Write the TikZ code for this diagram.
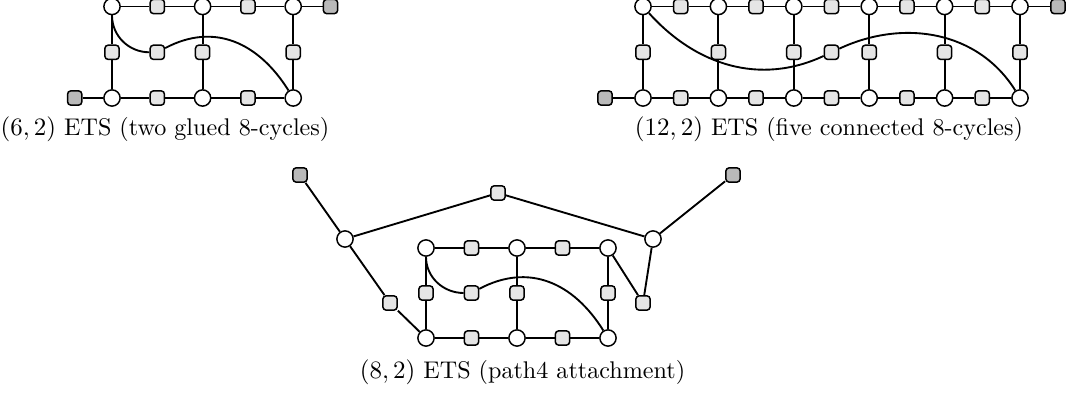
\documentclass[tikz,border=0pt]{standalone}
\pgfdeclarelayer{background}
\pgfsetlayers{background,main}
\begin{document}
\begin{tikzpicture}[x=0.4pt, y=-0.4pt,
  vnode/.style={circle, draw, fill=white, line width=0.6pt, minimum size=6.5pt, inner sep=0pt},
  cnode/.style={rectangle, rounded corners=1.3pt, draw, fill=gray!20, line width=0.6pt, minimum size=5.7pt, inner sep=0pt},
  dnode/.style={cnode, fill=gray!55},
  edge/.style={line width=0.75pt},
  caption/.style={anchor=base, inner sep=0pt, font=\fontsize{9.65pt}{11pt}\selectfont}]
\useasboundingbox (0,0) rectangle (1073,398);

% ---------- (6,2) ETS: two glued 8-cycles ----------
\node[vnode] (p1) at (112,6.5) {};
\node[cnode] (p2) at (157.3,6.5) {};
\node[vnode] (p3) at (202.6,6.5) {};
\node[cnode] (p4) at (247.9,6.5) {};
\node[vnode] (p5) at (293.2,6.5) {};
\node[dnode] (p6) at (330.5,6.5) {};
\node[cnode] (pm1) at (112,52.3) {};
\node[cnode] (pm2) at (157.3,52.3) {};
\node[cnode] (pm3) at (202.6,52.3) {};
\node[cnode] (pm5) at (293.2,52.3) {};
\node[dnode] (q0) at (74.7,98) {};
\node[vnode] (q1) at (112,98) {};
\node[cnode] (q2) at (157.3,98) {};
\node[vnode] (q3) at (202.6,98) {};
\node[cnode] (q4) at (247.9,98) {};
\node[vnode] (q5) at (293.2,98) {};
\begin{pgfonlayer}{background}
\draw[edge] (p1) -- (p2) -- (p3) -- (p4) -- (p5) -- (p6);
\draw[edge] (q0) -- (q1) -- (q2) -- (q3) -- (q4) -- (q5);
\draw[edge] (p1) -- (pm1) -- (q1);
\draw[edge] (p3) -- (pm3) -- (q3);
\draw[edge] (p5) -- (pm5) -- (q5);
\draw[edge] (p1) to[out=-90, in=180] (pm2);
\draw[edge] (pm2) to[out=28, in=122, looseness=1.1] (q5);
\end{pgfonlayer}
\node[caption] (cap1) at (165,136) {$(6,2)$ ETS (two glued 8-cycles)};

% ---------- (12,2) ETS: five connected 8-cycles ----------
\foreach \i/\x in {1/643,2/718.4,3/793.8,4/869.2,5/944.6,6/1020} {
  \node[vnode] (t\i) at (\x,6.5) {};
  \node[cnode] (m\i) at (\x,52.3) {};
  \node[vnode] (b\i) at (\x,98) {};
}
\foreach \i/\x in {1/680.7,2/756.1,3/831.5,4/906.9,5/982.3} {
  \node[cnode] (ts\i) at (\x,6.5) {};
  \node[cnode] (bs\i) at (\x,98) {};
}
\node[cnode] (mx) at (831.5,52.3) {};
\node[dnode] (tdark) at (1058,6.5) {};
\node[dnode] (bdark) at (605,98) {};
\begin{pgfonlayer}{background}
\draw[edge] (t1) -- (ts1) -- (t2) -- (ts2) -- (t3) -- (ts3) -- (t4) -- (ts4) -- (t5) -- (ts5) -- (t6) -- (tdark);
\draw[edge] (bdark) -- (b1) -- (bs1) -- (b2) -- (bs2) -- (b3) -- (bs3) -- (b4) -- (bs4) -- (b5) -- (bs5) -- (b6);
\foreach \i in {1,...,6} { \draw[edge] (t\i) -- (m\i) -- (b\i); }
\draw[edge] (t1) to[out=-48, in=205] (mx);
\draw[edge] (mx) to[out=25, in=122] (b6);
\end{pgfonlayer}
\node[caption] (cap2) at (829,136) {$(12,2)$ ETS (five connected 8-cycles)};

% ---------- (8,2) ETS: path4 attachment ----------
\node[vnode] (g1) at (426,248) {};
\node[cnode] (g2) at (471.5,248) {};
\node[vnode] (g3) at (517,248) {};
\node[cnode] (g4) at (562.5,248) {};
\node[vnode] (g5) at (608,248) {};
\node[cnode] (gm1) at (426,293) {};
\node[cnode] (gm2) at (471.5,293) {};
\node[cnode] (gm3) at (517,293) {};
\node[cnode] (gm5) at (608,293) {};
\node[vnode] (h1) at (426,338) {};
\node[cnode] (h2) at (471.5,338) {};
\node[vnode] (h3) at (517,338) {};
\node[cnode] (h4) at (562.5,338) {};
\node[vnode] (h5) at (608,338) {};
\node[dnode] (ul) at (300,175) {};
\node[dnode] (ur) at (733,175) {};
\node[cnode] (top) at (498,193) {};
\node[vnode] (vl) at (345,239) {};
\node[vnode] (vr) at (653,239) {};
\node[cnode] (sl) at (390,303) {};
\node[cnode] (sr) at (643,303) {};
\begin{pgfonlayer}{background}
\draw[edge] (g1) -- (g2) -- (g3) -- (g4) -- (g5);
\draw[edge] (h1) -- (h2) -- (h3) -- (h4) -- (h5);
\draw[edge] (g1) -- (gm1) -- (h1);
\draw[edge] (g3) -- (gm3) -- (h3);
\draw[edge] (g5) -- (gm5) -- (h5);
\draw[edge] (g1) to[out=-90, in=180] (gm2);
\draw[edge] (gm2) to[out=28, in=122, looseness=1.1] (h5);
\draw[edge] (ul) -- (vl) -- (top) -- (vr) -- (ur);
\draw[edge] (vl) -- (sl) -- (h1);
\draw[edge] (vr) -- (sr) -- (g5);
\end{pgfonlayer}
\node[caption] (cap3) at (522.5,379) {$(8,2)$ ETS (path4 attachment)};
\end{tikzpicture}
\end{document}
